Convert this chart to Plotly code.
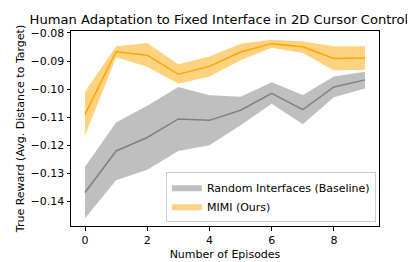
import plotly.graph_objects as go

episodes = [0, 1, 2, 3, 4, 5, 6, 7, 8, 9]

random_mean = [-0.1368, -0.1220, -0.1172, -0.1106, -0.1111, -0.1075, -0.1015, -0.1073, -0.0992, -0.0967]
random_upper = [-0.1276, -0.1119, -0.1059, -0.0992, -0.1022, -0.1027, -0.0975, -0.1021, -0.0955, -0.0938]
random_lower = [-0.1459, -0.1324, -0.1287, -0.1220, -0.1200, -0.1128, -0.1052, -0.1125, -0.1029, -0.0998]

mimi_mean = [-0.1090, -0.0867, -0.0879, -0.0947, -0.0919, -0.0868, -0.0838, -0.0849, -0.0891, -0.0889]
mimi_upper = [-0.1009, -0.0847, -0.0836, -0.0911, -0.0884, -0.0838, -0.0824, -0.0830, -0.0847, -0.0847]
mimi_lower = [-0.1166, -0.0886, -0.0920, -0.0981, -0.0955, -0.0897, -0.0853, -0.0871, -0.0934, -0.0931]

x_ticks = [0, 2, 4, 6, 8]
y_ticks = [-0.14, -0.13, -0.12, -0.11, -0.10, -0.09, -0.08]

fig = go.Figure()

def band(x, up, lo, color, name):
    return go.Scatter(
        x=list(x) + list(x)[::-1],
        y=list(up) + list(lo)[::-1],
        fill="toself", fillcolor=color, line=dict(width=0),
        mode="lines", name=name, hoverinfo="skip")

fig.add_trace(band(episodes, random_upper, random_lower, "rgba(128,128,128,0.5)", "Random Interfaces (Baseline)"))
fig.add_trace(go.Scatter(x=episodes, y=random_mean, mode="lines",
                         line=dict(color="#808080", width=1.5), showlegend=False))
fig.add_trace(band(episodes, mimi_upper, mimi_lower, "rgba(255,165,0,0.5)", "MIMI (Ours)"))
fig.add_trace(go.Scatter(x=episodes, y=mimi_mean, mode="lines",
                         line=dict(color="#FFA500", width=1.5), showlegend=False))

axis_common = dict(showgrid=False, zeroline=False, showline=True, linecolor="black",
                   linewidth=1, mirror=True, ticks="outside", ticklen=3.5, tickwidth=1,
                   tickcolor="black", tickfont=dict(size=11, color="black"))

fig.update_layout(
    width=415, height=262,
    margin=dict(l=62, r=44, t=23, b=39),
    paper_bgcolor="white", plot_bgcolor="white",
    font=dict(family="DejaVu Sans", color="black"),
    title=dict(text="Human Adaptation to Fixed Interface in 2D Cursor Control",
               x=0.508, xanchor="center", xref="container",
               y=0.958, yanchor="middle", yref="container",
               font=dict(size=13.1, color="black")),
    xaxis=dict(range=[-0.45, 9.45], tickvals=x_ticks,
               title=dict(text="Number of Episodes", font=dict(size=11), standoff=4),
               **axis_common),
    yaxis=dict(range=[-0.1487, -0.0793], tickvals=y_ticks, tickformat=".2f",
               title=dict(text="True Reward (Avg. Distance to Target)", font=dict(size=11), standoff=3),
               **axis_common),
    legend=dict(x=0.99, y=0.022, xanchor="right", yanchor="bottom",
                bgcolor="rgba(255,255,255,0.8)", bordercolor="#cccccc", borderwidth=1,
                font=dict(size=11), tracegroupgap=0, itemwidth=30),
)

fig.write_html("out.html")
